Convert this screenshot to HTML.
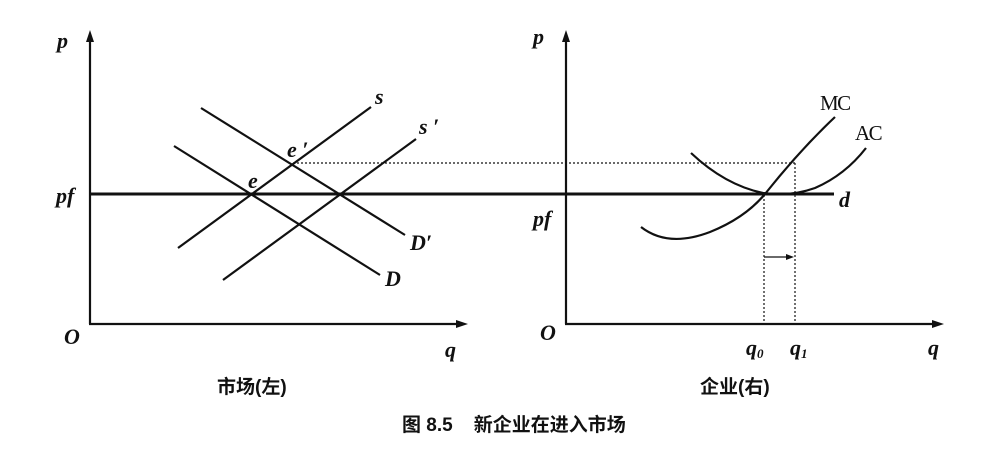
<!DOCTYPE html>
<html><head><meta charset="utf-8"><style>
body{margin:0;background:#fff;}
svg{display:block}
.it{font-family:"Liberation Serif",serif;font-style:italic;font-weight:bold;font-size:22px;fill:#111}
.rm{font-family:"Liberation Serif",serif;font-size:21px;fill:#111;letter-spacing:-1.5px}
.cj{font-family:"Liberation Sans","Noto Sans CJK SC",sans-serif;font-size:19px;fill:#111;font-weight:bold}
</style></head><body>
<svg width="995" height="453" viewBox="0 0 995 453" xmlns="http://www.w3.org/2000/svg">
<g stroke="#111" fill="none" stroke-width="2.2">
<line x1="90" y1="40" x2="90" y2="324"/>
<line x1="89" y1="324" x2="460" y2="324"/>
<line x1="566" y1="40" x2="566" y2="324"/>
<line x1="565" y1="324" x2="938" y2="324"/>
<line x1="90" y1="194" x2="834" y2="194" stroke-width="3"/>
<line x1="178" y1="248" x2="371" y2="107"/>
<line x1="223" y1="280" x2="416" y2="139"/>
<line x1="201" y1="108" x2="405" y2="235"/>
<line x1="174" y1="146" x2="380" y2="275"/>
<path d="M641 227 Q668 248 710 232 Q745 218 765 194 Q800 150 835 117"/>
<path d="M691 153 Q725 185 763 193 Q790 197 815 188 Q845 175 866 148"/>
</g>
<g fill="#111">
<polygon points="90,30 86,42 94,42"/>
<polygon points="468,324 456,320 456,328"/>
<polygon points="566,30 562,42 570,42"/>
<polygon points="944,324 932,320 932,328"/>
<polygon points="794,257 786,254 786,260"/>
</g>
<g stroke="#111" fill="none" stroke-width="1.2" stroke-dasharray="2,2">
<line x1="293" y1="163" x2="795" y2="163"/>
<line x1="764" y1="195" x2="764" y2="323"/>
<line x1="795" y1="163" x2="795" y2="323"/>
</g>
<line x1="764" y1="257" x2="788" y2="257" stroke="#111" stroke-width="1.3"/>
<text class="it" x="57" y="48">p</text>
<text class="it" x="56" y="203">pf</text>
<text class="it" x="64" y="344">O</text>
<text class="it" x="445" y="357">q</text>
<text class="it" x="375" y="104" font-size="18">s</text>
<text class="it" x="419" y="134" font-size="18">s ′</text>
<text class="it" x="287" y="157" font-size="18">e ′</text>
<text class="it" x="248" y="188" font-size="18">e</text>
<text class="it" x="410" y="250">D′</text>
<text class="it" x="385" y="286">D</text>
<text class="cj" x="217" y="393">市场(左)</text>
<text class="it" x="533" y="44">p</text>
<text class="it" x="533" y="226">pf</text>
<text class="it" x="540" y="340">O</text>
<text class="rm" x="820" y="110">MC</text>
<text class="rm" x="855" y="140">AC</text>
<text class="it" x="839" y="207">d</text>
<text class="it" x="746" y="355">q<tspan font-size="13" dy="3">0</tspan></text>
<text class="it" x="790" y="355">q<tspan font-size="13" dy="3">1</tspan></text>
<text class="it" x="928" y="355">q</text>
<text class="cj" x="700" y="393">企业(右)</text>
<text class="cj" x="402" y="431">图 8.5&#160;&#160;&#160;&#160;新企业在进入市场</text>
</svg>
</body></html>
